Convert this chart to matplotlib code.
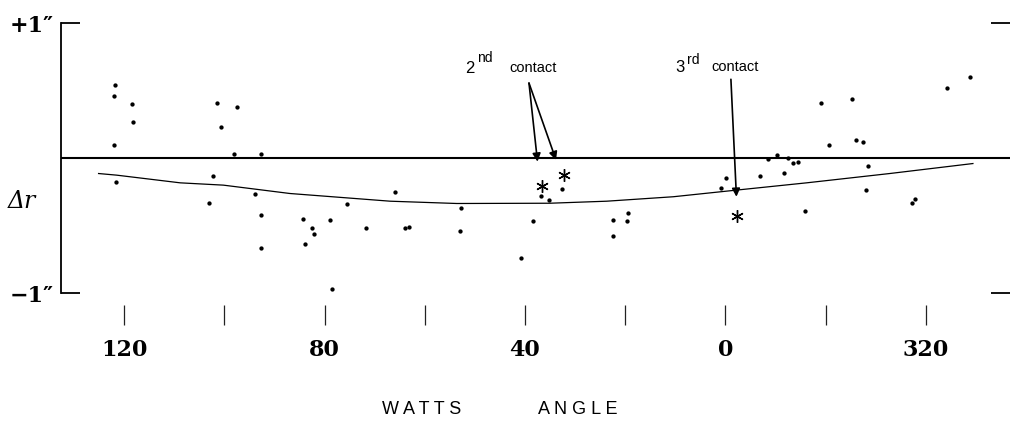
import numpy as np
import matplotlib
matplotlib.use("Agg")
import matplotlib.pyplot as plt

# Watts angle (deg) and radius residual (arc-sec)
dot_angle = [121.9, 122.1, 118.5, 118.2, 122.1, 121.6, 101.5, 97.4, 100.7, 98.1,
             92.7, 102.3, 103.1, 93.9, 92.7, 92.7, 84.3, 82.5, 82.1, 83.9,
             78.9, 78.5, 66.0, 75.6, 71.7, 64.0, 63.2, 52.7, 53.0, 38.3,
             40.7, 22.5, 19.5, 19.6, 22.4, 36.9, 35.3, 32.6, 341.0, 334.7,
             315.8, 311.1, 339.4, 334.0, 332.5, 351.4, 349.7, 347.5, 346.6, 345.5,
             353.0, 348.3, 359.8, 0.9, 331.5, 332.0, 344.1, 322.8, 322.1]
dot_dr = [0.54, 0.46, 0.40, 0.27, 0.10, -0.18, 0.41, 0.38, 0.23, 0.03,
          0.03, -0.13, -0.33, -0.27, -0.42, -0.67, -0.45, -0.52, -0.56, -0.64,
          -0.46, -0.97, -0.25, -0.34, -0.52, -0.52, -0.51, -0.37, -0.54, -0.47,
          -0.74, -0.46, -0.41, -0.47, -0.58, -0.28, -0.31, -0.23, 0.41, 0.44,
          0.52, 0.60, 0.10, 0.13, 0.12, -0.01, 0.02, 0.00, -0.035, -0.03,
          -0.13, -0.11, -0.15, -0.22, -0.06, -0.235, -0.39, -0.33, -0.30]

# contact observations (asterisks)
star_angle = [36.6, 32.3, 357.6]
star_dr = [-0.205, -0.126, -0.427]

# smooth fitted curve
curve_angle = [125.1, 121.5, 108.8, 100.2, 86.9, 66.9, 53.6, 35.0, 23.7, 10.4,
               358.1, 343.8, 327.2, 310.6]
curve_dr = [-0.115, -0.127, -0.184, -0.201, -0.263, -0.320, -0.337, -0.335, -0.320,
            -0.287, -0.239, -0.184, -0.115, -0.041]

tick_angles = [120, 100, 80, 60, 40, 20, 0, 340, 320]
tick_labels = ["120", "", "80", "", "40", "", "0", "", "320"]


def to_x(a):
    # angles past 0 continue to the right as 360, 350, ...
    a = np.asarray(a, dtype=float)
    return np.where(a < 180, a, a - 360)


fig = plt.figure(figsize=(10.1, 4.28), dpi=100)
ax = fig.add_axes([61 / 1010, 1 - 293 / 428, 949 / 1010, 270 / 428])

ax.axhline(0, color="black", lw=1.5)
ax.plot(to_x(curve_angle), curve_dr, color="black", lw=0.9)
ax.plot(to_x(dot_angle), dot_dr, "o", color="black", ms=3.1, mec="none")
ax.plot(to_x(star_angle), star_dr, ls="none", marker=(6, 2, 0), color="black",
        ms=9, mew=1.0)

ax.set_xlim(132.6, -56.8)
ax.set_ylim(-1, 1)

# frame: only a bracket on the left
for s in ["top", "right"]:
    ax.spines[s].set_visible(False)
ax.spines["left"].set_linewidth(1.3)
ax.spines["bottom"].set_position(("outward", 8.6))
ax.spines["bottom"].set_color("none")

ax.set_xticks(to_x(tick_angles))
ax.set_xticklabels(tick_labels)
ax.tick_params(axis="x", direction="out", length=14.4, width=0.9, color="#222222",
               pad=10, labelsize=16)
for lab in ax.get_xticklabels():
    lab.set_family("DejaVu Serif")
    lab.set_weight("bold")

ax.set_yticks([-1, 1])
ax.set_yticklabels(["\u22121\u2033", "+1\u2033"])
ax.tick_params(axis="y", direction="in", length=13.7, width=1.3, pad=5,
               labelsize=16, right=True)
for lab in ax.get_yticklabels():
    lab.set_family(["DejaVu Serif", "DejaVu Sans"])
    lab.set_weight("bold")

ax.set_ylabel("\u0394r", rotation=0, fontsize=17, family="DejaVu Serif",
              style="italic", ha="center", va="center")
ax.yaxis.set_label_coords(-0.041, 0.34)

# contact arrows
arrow = dict(arrowstyle="-|>", color="black", lw=1.2, mutation_scale=12,
             shrinkA=0, shrinkB=0)
ax.annotate("", xy=(to_x(37.5), -0.027), xytext=(to_x(39.2), 0.555), arrowprops=arrow)
ax.annotate("", xy=(to_x(33.8), -0.015), xytext=(to_x(39.2), 0.555), arrowprops=arrow)
ax.annotate("", xy=(to_x(357.8), -0.287), xytext=(to_x(358.9), 0.583), arrowprops=arrow)

lbl = dict(family="Liberation Sans", color="black")
ax.text(to_x(50.0), 0.63, "2", ha="right", va="baseline", fontsize=12, **lbl)
ax.text(to_x(49.6), 0.71, "nd", ha="left", va="baseline", fontsize=10, **lbl)
ax.text(to_x(38.4), 0.67, "contact", ha="center", va="center", fontsize=10.5, **lbl)
ax.text(to_x(8.1), 0.637, "3", ha="right", va="baseline", fontsize=12, **lbl)
ax.text(to_x(7.7), 0.70, "rd", ha="left", va="baseline", fontsize=10, **lbl)
ax.text(to_x(358.1), 0.674, "contact", ha="center", va="center", fontsize=10.5, **lbl)

fig.text(422 / 1010, 1 - 410 / 428, "W A T T S", ha="center", va="center",
         fontsize=13, family="Liberation Sans")
fig.text(578 / 1010, 1 - 410 / 428, "A N G L E", ha="center", va="center",
         fontsize=13, family="Liberation Sans")

fig.savefig("out.png", dpi=100)
